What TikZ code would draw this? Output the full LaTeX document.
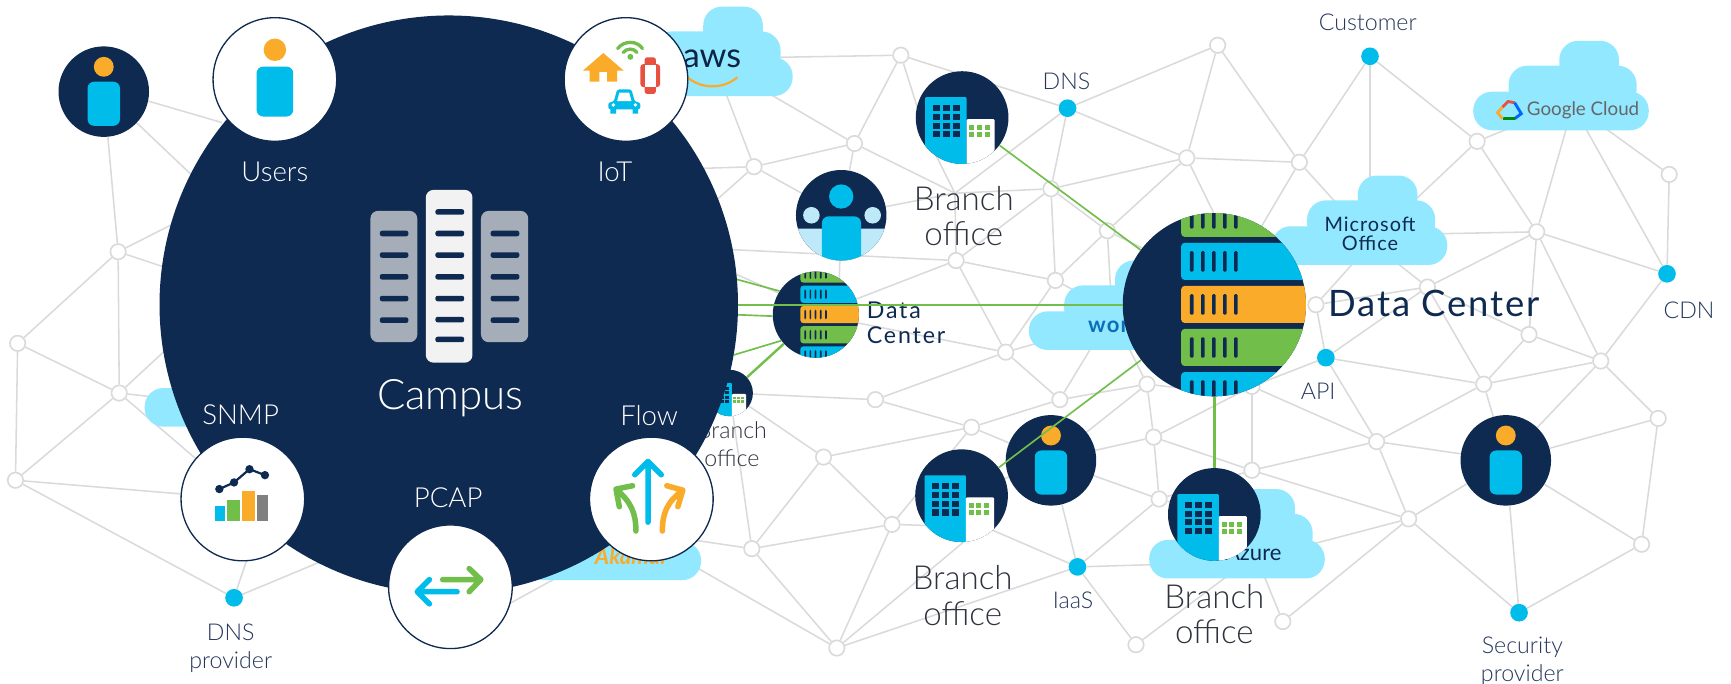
\documentclass[tikz,border=0pt]{standalone}
\usepackage{fontspec}
\setmainfont{Lato Light}
\newfontfamily\midFont{Lato}
\newfontfamily\wideFont[LetterSpace=5]{Lato}
\newfontfamily\widerFont[LetterSpace=8]{Lato}
\usetikzlibrary{positioning,backgrounds}
\definecolor{navy}{HTML}{0F2A50}
\definecolor{cyanblue}{HTML}{00BCEB}
\definecolor{paleblue}{HTML}{BDE9F8}
\definecolor{cloudblue}{HTML}{91E8FF}
\definecolor{orangey}{HTML}{FBAB2A}
\definecolor{greeny}{HTML}{72BE4B}
\definecolor{reddy}{HTML}{E8503F}
\definecolor{netgray}{HTML}{DADADA}
\definecolor{labelblue}{HTML}{24365A}
\definecolor{officeink}{HTML}{2D323C}
\definecolor{rackgray}{HTML}{A5ADB9}
\definecolor{rackwhite}{HTML}{F2F2F2}
\definecolor{workblue}{HTML}{0B6FB8}
\tikzset{
	personicon/.pic={
		\fill[orangey] (0,-22.5) circle (9);
		\fill[cyanblue,rounded corners=6pt] (-14.7,-9) rectangle (14.7,31);
	},
	buildingicon/.pic={
		\begin{scope}
			\clip (0,0) circle (42);
			\fill[cyanblue,rounded corners=1pt] (-33.5,-18.5) rectangle (4,50);
			\fill[white,rounded corners=1pt] (4,1.5) rectangle (29.5,50);
			\foreach \cx in {-26.5,-17.5,-8.5}
				\foreach \cy in {-11.5,-3.5,4.5,12.5}
					\fill[navy] (\cx,\cy) rectangle ++(6.5,5.5);
			\foreach \cx in {6.5,13.5,20.5}
				\foreach \cy in {7,13}
					\fill[greeny] (\cx,\cy) rectangle ++(4.5,4.5);
		\end{scope}
	},
	servericon/.pic={
		\begin{scope}
			\clip (0,0) circle (83);
			\foreach \cy/\cc in {-95/greeny,-56/cyanblue,-17/orangey,22/greeny,61/cyanblue}{
				\fill[\cc,rounded corners=3pt] (-30,\cy) rectangle (100,\cy+33.5);
				\foreach \cx in {-20.5,-10.5,-0.5,9.5,19.5}
					\fill[navy,rounded corners=1pt] (\cx-1.6,\cy+7.5) rectangle (\cx+1.6,\cy+26);
			}
		\end{scope}
	},
	cloudshape/.pic={
		\fill[cloudblue,rounded corners=17pt] (0,-35) rectangle (159,0);
		\fill[cloudblue,rounded corners=17pt] (32,-58.5) rectangle (148,-20);
		\fill[cloudblue,rounded corners=17pt] (78,-81) rectangle (132,-40);
	}
}

\begin{document}
\begin{tikzpicture}[% sizes are in pixels of the shrunk picture, y runs down
			x=1pt,y=-1pt,
			every node/.style={
				align=center,  		% so that "\\" breaks a label
				inner sep=0pt
			},
			every edge/.style={draw=netgray,line width=1.4pt},
			netnode/.style={circle,draw=netgray,line width=1.5pt,fill=white,minimum size=14pt},
			dotnode/.style={circle,fill=cyanblue,minimum size=16pt},
			iconcircle/.style={circle,fill=navy,minimum size=82pt},
			satcircle/.style={circle,fill=white,draw=navy,line width=1.2pt,minimum size=112pt},
			satlabel/.style={text=white,font=\fontsize{25}{27}\selectfont},
			officelabel/.style={text=officeink,font=\fontsize{30}{32}\selectfont},
			smalllabel/.style={text=labelblue,font=\fontsize{21}{25}\selectfont},
			linkline/.style={draw=greeny,line width=1.5pt},
			iconstroke/.style={line width=5pt,line cap=round,line join=round}
		]
		\useasboundingbox (0,0) rectangle (1568,619);
		% network nodes
		\node[netnode](N1) at (107,228){};
		\node[netnode](N2) at (16,311){};
		\node[netnode](N3) at (108,356){};
		\node[netnode](N4) at (14,435){};
		\node[netnode](N5) at (816,50){};
		\node[netnode](N6) at (774,130){};
		\node[netnode](N7) at (683,151){};
		\node[netnode](N8) at (866,236){};
		\node[netnode](N9) at (952,171){};
		\node[netnode](N10) at (1075,143){};
		\node[netnode](N11) at (1103,41){};
		\node[netnode](N12) at (1177,147){};
		\node[netnode](N13) at (1003,209){};
		\node[netnode](N14) at (956,254){};
		\node[netnode](N15) at (1338,128){};
		\node[netnode](N16) at (1512,158){};
		\node[netnode](N17) at (1392,210){};
		\node[netnode](N18) at (1450,327){};
		\node[netnode](N19) at (1344,348){};
		\node[netnode](N20) at (1247,400){};
		\node[netnode](N21) at (1502,379){};
		\node[netnode](N22) at (1276,470){};
		\node[netnode](N23) at (1487,493){};
		\node[netnode](N24) at (1162,563){};
		\node[netnode](N25) at (1029,584){};
		\node[netnode](N26) at (758,587){};
		\node[netnode](N27) at (681,497){};
		\node[netnode](N28) at (746,414){};
		\node[netnode](N29) at (793,362){};
		\node[netnode](N30) at (880,387){};
		\node[netnode](N31) at (911,319){};
		\node[netnode](N32) at (960,362){};
		\node[netnode](N33) at (1039,348){};
		\node[netnode](N34) at (1045,396){};
		\node[netnode](N35) at (808,475){};
		\node[netnode](N36) at (1050,452){};
		\node[netnode](N37) at (1134,426){};
		\node[netnode](N38) at (1134,350){};
		\node[netnode](N39) at (1192,276){};
		\node[netnode](N40) at (1293,260){};
		\node[netnode](N41) at (1385,303){};
		% service dots and their labels
		\node[dotnode](D1) at (212,541.5){};
		\node[dotnode](D2) at (967,98){};
		\node[dotnode](D3) at (1241,51){};
		\node[dotnode](D4) at (1510,248){};
		\node[dotnode](D5) at (1201,324){};
		\node[dotnode](D6) at (976,513.5){};
		\node[dotnode](D7) at (1376,555){};
		\node[smalllabel](L1) at (209,587){DNS\\provider};
		\node[smalllabel](L2) at (966,74){DNS};
		\node[smalllabel](L3) at (1239,20){Customer};
		\node[smalllabel](L4) at (1530,281){CDN};
		\node[smalllabel](L5) at (1194,354){API};
		\node[smalllabel](L6) at (972,544){IaaS};
		\node[smalllabel](L7) at (1379,599){Security\\provider};
		% free ends that lie behind the circles and clouds
		\coordinate (H1) at (201,111);
		\coordinate (H2) at (230,212);
		\coordinate (H3) at (200,181);
		\coordinate (H4) at (200,259);
		\coordinate (H5) at (190,280);
		\coordinate (H6) at (160,362);
		\coordinate (H7) at (236,470);
		\coordinate (H8) at (350,484);
		\coordinate (H9) at (545,501);
		\coordinate (H11) at (600,485);
		\coordinate (H12) at (610,502);
		\coordinate (H13) at (880,485);
		\coordinate (H14) at (840,476);
		\coordinate (H15) at (880,472);
		\coordinate (H16) at (1060,511);
		\coordinate (H17) at (1130,508);
		\coordinate (H18) at (1130,485);
		\coordinate (H19) at (960,305);
		\coordinate (H20) at (990,272);
		\coordinate (H21) at (1006,262);
		\coordinate (H22) at (995,304);
		\coordinate (H23) at (1020,310);
		\coordinate (H24) at (1100,355);
		\coordinate (H25) at (620,153);
		\coordinate (H26) at (620,207);
		\coordinate (H27) at (655,78);
		\coordinate (H28) at (680,75);
		\coordinate (H29) at (700,52);
		\coordinate (H30) at (835,110);
		\coordinate (H31) at (845,135);
		\coordinate (H32) at (640,225);
		\coordinate (H33) at (760,260);
		\coordinate (H34) at (1100,257);
		\coordinate (H35) at (1120,235);
		\coordinate (H36) at (1125,235);
		\coordinate (H37) at (1225,200);
		\coordinate (H38) at (1241,180);
		\coordinate (H39) at (1265,197);
		\coordinate (H40) at (1375,113);
		\coordinate (H41) at (1290,212);
		\coordinate (H42) at (1425,95);
		\coordinate (H43) at (1430,105);
		\coordinate (H44) at (1440,106);
		\coordinate (H45) at (1255,230);
		\coordinate (H47) at (1235,228);
		\coordinate (H48) at (1150,503);
		\coordinate (hub) at (865,175);
		% clouds, those under the campus first
		\pic at (131,386.5) {cloudshape};
		\pic at (476,525.5) {cloudshape};
		\node[text=orangey,font=\midFont\bfseries\itshape\fontsize{20}{20}\selectfont](akamaiText) at (571,504){Akamai};
		\pic at (559,87) {cloudshape};
		\node[text=navy!85!black,font=\midFont\fontsize{31}{32}\selectfont](awsText) at (645,53){aws};
		\draw[orangey,line width=2pt] (622,69.5) .. controls (635,81) and (655,81) .. (668,70);
		\pic at (1334.5,118) {cloudshape};
		\node[text=black!60,font=\midFont\fontsize{17}{18}\selectfont](googleText) at (1434,100){Google Cloud};
		\draw[line width=2.6pt,reddy] (1361,97) -- (1366,92) -- (1372,93);
		\draw[line width=2.6pt,blue!60!cyan] (1372,93) -- (1378,103) -- (1372,107.5);
		\draw[line width=2.6pt,green!55!black] (1372,107.5) -- (1361,107.5);
		\draw[line width=2.6pt,orangey] (1361,107.5) -- (1356.5,102) -- (1361,97);
		\pic at (1152,240) {cloudshape};
		\node[text=navy,font=\wideFont\fontsize{18}{17.5}\selectfont](officeText) at (1241,212){Microsoft\\Office};
		\pic at (932,317) {cloudshape};
		\node[text=workblue,anchor=west,font=\wideFont\bfseries\fontsize{20}{20}\selectfont](workText) at (985.5,295){workday};
		\draw[orangey,line width=2pt] (1023,277) .. controls (1025,270) and (1030,266) .. (1036,264);
		\pic at (1041,524) {cloudshape};
		\node[text=navy,anchor=east,font=\midFont\fontsize{20}{20}\selectfont](azureText) at (1161,501){Azure};
		% outer icons
		\node[iconcircle](persA) at (94,83){};
		\pic at (persA) {personicon};
		\node[iconcircle](persB) at (762,195){};
		\begin{scope}
			\clip (762,195) circle (41);
			\fill[paleblue,rounded corners=2pt] (715,207) rectangle (810,240);
			\fill[paleblue] (735,195) circle (7.5) (790.5,195) circle (7.5);
			\fill[cyanblue] (762,178) circle (11);
			\fill[cyanblue,rounded corners=6pt] (744.5,196) rectangle (780,250);
		\end{scope}
		\node[iconcircle](persC) at (952,417){};
		\pic at (persC) {personicon};
		\node[iconcircle](persD) at (1364,417){};
		\pic at (persD) {personicon};
		\node[iconcircle,minimum size=84pt](brA) at (871.5,106.5){};
		\pic at (brA) {buildingicon};
		\node[iconcircle,minimum size=84pt](brB) at (871,449){};
		\pic at (brB) {buildingicon};
		\node[iconcircle,minimum size=84pt](brC) at (1100,466){};
		\pic at (brC) {buildingicon};
		\node[iconcircle,minimum size=42pt](brS) at (661,356){};
		\pic[scale=.5] at (brS) {buildingicon};
		\node[officelabel](O1) at (873,195.5){Branch\\office};
		\node[officelabel](O2) at (872,539.5){Branch\\office};
		\node[officelabel](O3) at (1100,556.5){Branch\\office};
		\node[smalllabel,text=officeink](O4) at (663,402.5){Branch\\office};
		% small and big data center
		\node[iconcircle,minimum size=78pt](dcS) at (739,285){};
		\pic[scale=.47] at (dcS) {servericon};
		\node[text=navy,anchor=west,font=\widerFont\fontsize{21}{23}\selectfont,align=left](dcSText) at (785,292.5){Data\\Center};
		\node[iconcircle,minimum size=166pt](dcB) at (1100,276){};
		\pic at (dcB) {servericon};
		\node[text=navy,font=\wideFont\fontsize{33}{36}\selectfont](dcBText) at (1299,275){Data Center};
		% the campus with its racks
		\node[circle,fill=navy,minimum size=524pt](campus) at (406.5,276){};
		\fill[rackgray,rounded corners=7pt] (335.5,191) rectangle (378,310);
		\fill[rackgray,rounded corners=7pt] (435.7,191) rectangle (478.5,310);
		\fill[rackwhite,rounded corners=7pt] (385.7,172) rectangle (428,328.5);
		\foreach \cy in {211.5,231,250.7,270.4,290}{
			\fill[navy,rounded corners=2pt] (344,\cy-2.5) rectangle (370,\cy+2.5);
			\fill[navy,rounded corners=2pt] (444.4,\cy-2.5) rectangle (470.5,\cy+2.5);
		}
		\foreach \cy in {192,211.5,231,250.7,270.4,289.5,307.5}
			\fill[navy,rounded corners=2pt] (394.4,\cy-2.5) rectangle (420.5,\cy+2.5);
		\node[text=white,font=\fontsize{38}{40}\selectfont](campusText) at (408,361){Campus};
		\node[satlabel](T1) at (249,156){Users};
		\node[satlabel](T2) at (557,156){IoT};
		\node[satlabel](T3) at (218,376){SNMP};
		\node[satlabel](T4) at (406,451){PCAP};
		\node[satlabel](T5) at (588,376){Flow};
		% the five round views on the campus
		\node[satcircle](users) at (249,72){};
		\pic[scale=1.13] at (249,70.5) {personicon};
		\node[satcircle](iot) at (567,72){};
		\fill[orangey] (528,64) -- (546.5,48) -- (565,64) -- (559,64) -- (559,74) -- (550,74) -- (550,65) -- (543,65) -- (543,74) -- (534,74) -- (534,64) -- cycle;
		\draw[greeny,line width=3pt,line cap=round] (559.5,44) .. controls (565,36.5) and (577,36.5) .. (582,44);
		\draw[greeny,line width=3pt,line cap=round] (564.5,47.5) .. controls (568,43.5) and (574,43.5) .. (577,47.5);
		\fill[greeny] (571,51.5) circle (2.7);
		\fill[reddy,rounded corners=2pt] (584,52) rectangle (594,85);
		\fill[reddy,rounded corners=3pt] (580,58) rectangle (598,79);
		\fill[white] (584,58.5) rectangle (594,78.5);
		\fill[cyanblue,rounded corners=2pt] (556,92) -- (559,81) -- (572,81) -- (575,92) -- (580,93) -- (580,99) -- (551,99) -- (551,93) -- cycle;
		\fill[white] (559,91.5) -- (561,84) -- (570,84) -- (572,91.5) -- cycle;
		\fill[cyanblue] (553,98) rectangle (558,103) (573,98) rectangle (578,103);
		\fill[white] (555.5,95) circle (1.7) (575.5,95) circle (1.7);
		\node[satcircle](snmp) at (220,452){};
		\fill[cyanblue] (194.4,458.5) rectangle (203.8,471.7);
		\fill[greeny] (206,453) rectangle (217,471.7);
		\fill[orangey] (219.5,445) rectangle (231,471.7);
		\fill[black!50!white] (233,448.8) rectangle (243,471.7);
		\draw[navy,line width=2pt] (198.7,443) -- (212,437) -- (226,425) -- (240,430.4);
		\fill[navy] (198.7,443) circle (3.8) (212,437) circle (3.8) (226,425) circle (3.8) (240,430.4) circle (3.8);
		\node[satcircle](pcap) at (408,531.5){};
		\draw[greeny,iconstroke] (401,525) -- (435,525) (425,515) -- (435.5,525) -- (425,536);
		\draw[cyanblue,iconstroke] (414,536) -- (379,536) (389,525) -- (378,536) -- (389,547);
		\node[satcircle](flow) at (590,452){};
		\draw[cyanblue,iconstroke] (587,473) -- (587,418) (575,430) -- (587,418) -- (599,430);
		\draw[greeny,iconstroke] (576,481) .. controls (576,465) and (572,455) .. (558,443) (573,440) -- (558,443) -- (561,459);
		\draw[orangey,iconstroke] (600,481) .. controls (600,465) and (604,455) .. (618.5,444) (604,440) -- (618.5,444) -- (614,459);
		% the net itself
		\begin{scope}[on background layer]
			\path
			(persA)edge(N1) (persA.-12)edge(H1) (persA)edge(H2)
			(N1)edge(H3) (N1)edge(H4) (N1)edge(N2) (N1)edge(N3)
			(N2)edge(N3) (N2)edge(N4)
			(N3)edge(H5) (N3)edge(H6) (N3)edge(N4) (N3)edge(snmp)
			(N4)edge(snmp) (N4)edge(D1)
			(D1)edge(H7) (D1)edge(H8)
			(pcap.-15)edge(H9)
			(H11)edge(N27) (H12)edge(N26)
			(brS)edge(N29) (brS)edge(N28) (brS)edge(N27)
			(N27)edge(N28) (N27)edge(N35) (N27)edge(N26)
			(N28)edge(N30) (N28)edge(N35)
			(N35)edge(N26) (N26)edge(H13) (N26)edge(D6)
			(N29)edge(N31) (N29)edge(N30)
			(N30)edge(N32) (N31)edge(N32) (N30)edge(persC) (N30)edge(N35)
			(N35)edge(H14) (H15)edge(D6)
			(persC)edge(brB) (persC)edge(D6)
			(D6)edge(N36) (D6)edge(H16) (D6)edge(N25)
			(N25)edge(H17) (N24)edge(H18)
			(persC)edge(N36) (persC)edge(N34) (persC)edge(N33)
			(N33)edge(N34) (N32)edge(N33)
			(N31)edge(N14) (N31)edge(H19) (N14)edge(H20) (N13)edge(H21) (N32)edge(H22)
			(N33)edge(H23) (N33)edge(H24)
			(N34)edge(N38) (N38)edge(D5) (N38)edge(N20) (N38)edge(N37)
			(N34)edge(N37) (N34)edge(N36)
			(N37)edge(N36) (N37)edge(N20) (N37)edge(N22) (N36)edge(brC)
			(N7)edge(H25) (N7)edge(H26) (N7)edge(H27) (N7)edge(N6) (N7)edge(persB)
			(N6)edge(H28) (N6)edge(persB) (N6)edge(N5) (N6)edge(hub)
			(N5)edge(H29) (N5)edge(H30) (N5)edge(D2)
			(hub)edge(H31) (hub)edge(D2) (hub)edge(N9) (hub)edge(persB) (hub)edge(N8)
			(N8)edge(N9) (N8)edge(H32) (N8)edge(N14) (N8)edge(N31) (N8)edge(dcS)
			(dcS)edge(N31) (persB)edge(H33) (campus.6)edge(dcS.150)
			(N9)edge(D2) (N9)edge(N10) (N9)edge(N13) (N9)edge(N14)
			(N13)edge(N14) (N13)edge(N10) (N13)edge(H34)
			(D2)edge(N11) (D2)edge(N10)
			(N10)edge(N11) (N10)edge(N12) (N10)edge(H35)
			(N11)edge(N12) (N12)edge(D3) (N12)edge(H36) (N12)edge(H37)
			(D3)edge(H38) (D3)edge(N15)
			(N15)edge(H39) (N15)edge(N17) (N15)edge(H40)
			(N17)edge(H41) (N17)edge(N40) (N17)edge(N18) (N17)edge(N41) (N17)edge(D4) (N17)edge(H42)
			(D4)edge(H43) (D4)edge(N16) (N16)edge(H44) (D4)edge(N18)
			(N40)edge(H45) (N39)edge(N40) (N39)edge(H47) (N39)edge(D5)
			(N40)edge(D5) (N40)edge(N19) (N40)edge(N41)
			(N41)edge(N18) (N41)edge(N19)
			(N18)edge(N19) (N18)edge(N21) (N18)edge(persD)
			(N19)edge(persD) (N19)edge(D5) (N19)edge(N20)
			(D5)edge(N20)
			(N20)edge(persD) (N20)edge(N22)
			(N22)edge(persD) (N22)edge(N24) (N22)edge(D7) (N22)edge(H48)
			(persD)edge(N21) (persD)edge(N23) (persD)edge(D7)
			(D7)edge(N23) (N21)edge(N23)
			;
		\end{scope}
		% green links run over everything
		\path[every edge/.style={linkline}]
		(campus.east)edge(dcB.west)
		(campus.5)edge(dcS.147)
		(campus.-2.4)edge(dcS.182)
		(campus.-10)edge(dcS.217)
		(brA)edge(dcB)
		(brB)edge(dcB)
		;
		\path[every edge/.style={linkline,line width=2.2pt}]
		(brS)edge(dcS)
		(dcB)edge(brC)
		;
	\end{tikzpicture}
\end{document}
